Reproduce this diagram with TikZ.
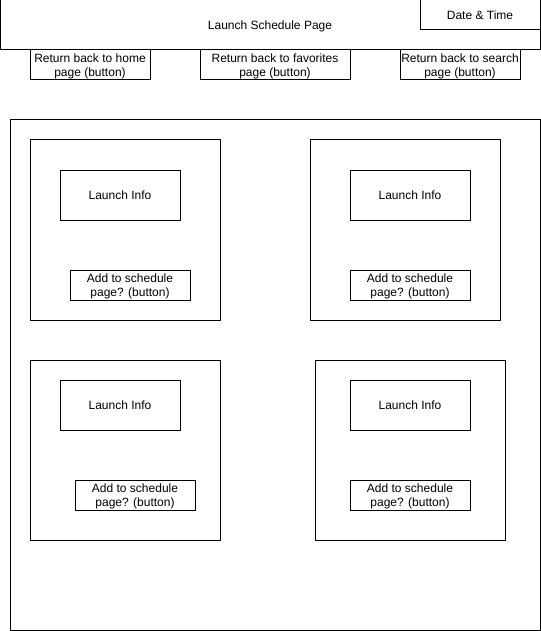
\documentclass[tikz,border=0pt]{standalone}
\usepackage{fontspec}
\setmainfont{Liberation Sans}
\usetikzlibrary{positioning}

\begin{document}
\begin{tikzpicture}[
		x=0.75pt,y=-0.75pt,
		box/.style={
			draw=black,
			line width=0.75pt,
			rectangle,
			inner sep=0pt,
			text depth=0pt,
			align=center,
			font=\fontsize{9}{10.5}\selectfont
		},
		btn/.style={box,minimum width=90pt,minimum height=22.5pt},
		card/.style={box,minimum width=142.5pt,minimum height=135pt},
		info/.style={box,minimum width=90pt,minimum height=37.5pt}
		]
		\useasboundingbox (0,0) rectangle (541,631);
		
		% Header bar
		\node[box,minimum width=405pt,minimum height=37.5pt] (page) at (270,25) {Launch Schedule Page};
		\node[btn] (datetime) at (480,15) {Date \& Time};
		
		% Navigation buttons
		\node[btn] (home) at (90,65) {Return back to home\\page (button)};
		\node[btn,minimum width=112.5pt] (favorites) at (275,65) {Return back to favorites\\page (button)};
		\node[btn] (search) at (460,65) {Return back to search\\page (button)};
		
		% Launch list
		\node[box,minimum width=397.5pt,minimum height=382.5pt] (list) at (275,375) {};
		
		% Launch cards
		\foreach \n/\cx/\cy/\ix/\iy/\ax/\ay in {1/125/230/120/195/130/285,
				2/405/230/410/195/410/285,
				3/125/450/120/405/135/495,
				4/410/450/410/405/410/495}{
			\node[card] (card\n) at (\cx,\cy) {};
			\node[info] (info\n) at (\ix,\iy) {Launch Info};
			\node[btn] (add\n) at (\ax,\ay) {Add to schedule\\page? (button)};
		}
	\end{tikzpicture}
\end{document}
